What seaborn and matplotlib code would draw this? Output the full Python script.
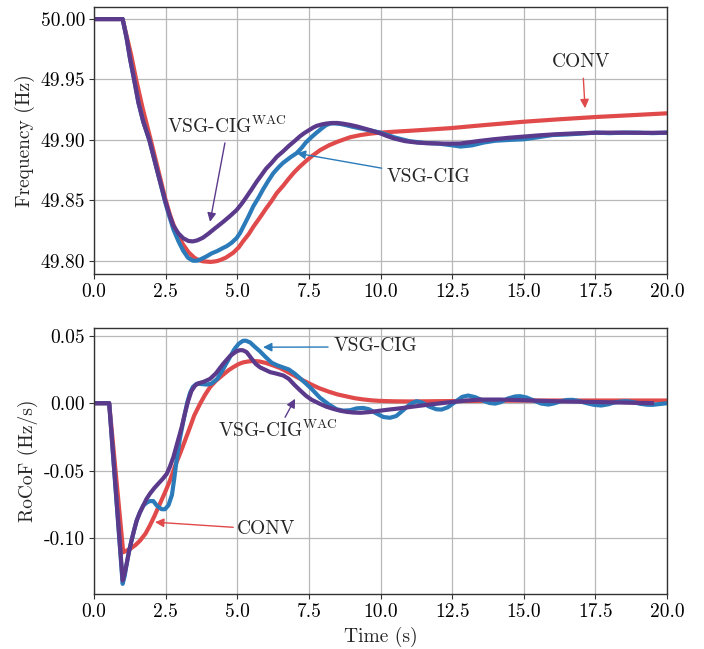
import matplotlib
matplotlib.use("Agg")
import matplotlib.pyplot as plt
import seaborn as sns

# ---------------- data ----------------
# Frequency (Hz)
t_f_conv = [0, 1.0, 1.15, 1.3, 1.47, 1.7, 1.98, 2.2, 2.48, 2.65, 2.77, 2.95, 3.12, 3.3,
            3.5, 3.65, 3.8, 4.07, 4.25, 4.4, 4.6, 4.86, 5.05, 5.2, 5.4, 5.56, 5.8, 6.0,
            6.2, 6.38, 6.6, 6.8, 7.0, 7.19, 7.4, 7.6, 7.89, 8.2, 8.5, 8.94, 9.3, 9.65,
            9.98, 10.5, 11.0, 12.43, 13.5, 14.98, 16.2, 17.55, 18.8, 20.0]
f_conv = [50.0, 50.0, 49.985, 49.970, 49.950, 49.926, 49.900, 49.879, 49.852, 49.838,
          49.830, 49.820, 49.813, 49.807, 49.8025, 49.8005, 49.7995, 49.799, 49.7995,
          49.8005, 49.8025, 49.8066, 49.811, 49.816, 49.822, 49.828, 49.836, 49.843,
          49.8495, 49.856, 49.862, 49.868, 49.8735, 49.878, 49.8825, 49.8865, 49.8915,
          49.8955, 49.8985, 49.9022, 49.904, 49.9052, 49.906, 49.9068, 49.9075,
          49.9097, 49.912, 49.915, 49.917, 49.919, 49.9205, 49.922]

t_f_vsg = [0, 1.0, 1.14, 1.26, 1.40, 1.55, 1.72, 1.93, 2.19, 2.48, 2.6, 2.77, 2.95,
           3.12, 3.28, 3.45, 3.6, 3.75, 3.93, 4.1, 4.3, 4.5, 4.63, 4.8, 4.98, 5.1,
           5.25, 5.4, 5.56, 5.75, 5.9, 6.08, 6.26, 6.45, 6.6, 6.85, 7.07, 7.25, 7.4,
           7.6, 7.77, 7.95, 8.1, 8.24, 8.4, 8.6, 8.8, 9.0, 9.5, 10.0, 10.5, 11.0, 11.5,
           12.0, 12.5, 12.8, 13.2, 13.6, 14.0, 14.5, 15.0, 15.5, 16.0, 16.5, 17.0,
           17.5, 18.0, 18.5, 19.0, 19.5, 20.0]
f_vsg = [50.0, 50.0, 49.984, 49.967, 49.950, 49.931, 49.915, 49.900, 49.876, 49.849,
         49.839, 49.826, 49.816, 49.808, 49.8025, 49.800, 49.800, 49.8015, 49.8036,
         49.806, 49.808, 49.8105, 49.812, 49.8148, 49.8188, 49.823, 49.830, 49.837,
         49.845, 49.8525, 49.859, 49.866, 49.8725, 49.8775, 49.881, 49.8855, 49.889,
         49.8935, 49.898, 49.9025, 49.906, 49.9095, 49.9122, 49.9135, 49.9137,
         49.9132, 49.9122, 49.911, 49.9085, 49.906, 49.902, 49.899, 49.8975, 49.897,
         49.8955, 49.8945, 49.8955, 49.8978, 49.8993, 49.900, 49.9005, 49.9022,
         49.904, 49.9045, 49.9052, 49.906, 49.9056, 49.906, 49.906, 49.9056, 49.906]

t_f_wac = [0, 1.0, 1.14, 1.26, 1.40, 1.55, 1.72, 1.93, 2.19, 2.48, 2.62, 2.77, 2.95,
           3.12, 3.3, 3.45, 3.6, 3.8, 4.0, 4.16, 4.5, 4.75, 4.98, 5.15, 5.3, 5.5, 5.68,
           5.85, 6.0, 6.2, 6.38, 6.6, 6.8, 7.0, 7.19, 7.35, 7.5, 7.65, 7.77, 7.95, 8.1,
           8.3, 8.5, 8.7, 8.94, 9.2, 9.5, 9.75, 9.98, 10.25, 10.5, 10.85, 11.26, 11.6,
           12.0, 12.4, 12.78, 13.1, 13.4, 13.94, 14.45, 14.98, 15.55, 16.15, 16.8,
           17.55, 18.5, 19.2, 20.0]
f_wac = [50.0, 50.0, 49.984, 49.967, 49.950, 49.931, 49.915, 49.900, 49.876, 49.850,
         49.839, 49.829, 49.8225, 49.8185, 49.8163, 49.816, 49.8168, 49.819, 49.8225,
         49.8256, 49.832, 49.837, 49.842, 49.847, 49.852, 49.859, 49.8655, 49.871,
         49.876, 49.881, 49.886, 49.8905, 49.895, 49.899, 49.903, 49.9058, 49.908,
         49.9102, 49.9116, 49.9128, 49.9135, 49.914, 49.914, 49.9134, 49.9124,
         49.911, 49.909, 49.9073, 49.9055, 49.903, 49.901, 49.899, 49.8978, 49.8973,
         49.897, 49.8969, 49.897, 49.898, 49.899, 49.9005, 49.9017, 49.9027, 49.9038,
         49.9047, 49.9054, 49.906, 49.906, 49.9058, 49.906]

# RoCoF (Hz/s)
t_r_conv = [0, 0.53, 1.02, 1.1, 1.26, 1.45, 1.61, 1.8, 1.95, 2.1, 2.30, 2.48, 2.65,
            2.82, 3.0, 3.17, 3.35, 3.5, 3.70, 3.87, 4.05, 4.25, 4.5, 4.7, 4.86, 5.05,
            5.2, 5.4, 5.56, 5.75, 6.0, 6.25, 6.5, 6.75, 7.0, 7.27, 7.54, 7.85, 8.2,
            8.5, 8.82, 9.1, 9.4, 9.7, 9.98, 10.5, 11.0, 12.0, 14.0, 16.0, 18.0, 20.0]
r_conv = [0.0, 0.0, -0.1104, -0.1095, -0.1079, -0.105, -0.1017, -0.0965, -0.0906,
          -0.084, -0.0745, -0.066, -0.0573, -0.047, -0.0375, -0.028, -0.0178, -0.009,
          -0.0005, 0.006, 0.0119, 0.0165, 0.021, 0.0245, 0.0267, 0.029, 0.0302,
          0.031, 0.0312, 0.031, 0.0298, 0.028, 0.026, 0.0232, 0.0203, 0.0172, 0.0143,
          0.0112, 0.0085, 0.0065, 0.005, 0.0037, 0.0028, 0.0021, 0.0017, 0.0014,
          0.0013, 0.0015, 0.0018, 0.002, 0.002, 0.002]

t_r_vsg = [0, 0.53, 1.0, 1.07, 1.14, 1.22, 1.31, 1.4, 1.49, 1.6, 1.72, 1.85, 1.95,
           2.07, 2.2, 2.36, 2.48, 2.6, 2.72, 2.8, 2.89, 3.0, 3.12, 3.25, 3.35, 3.45,
           3.58, 3.75, 3.93, 4.1, 4.3, 4.5, 4.74, 4.9, 5.05, 5.2, 5.3, 5.45, 5.6,
           5.79, 6.0, 6.2, 6.4, 6.6, 6.8, 7.0, 7.19, 7.4, 7.6, 7.89, 8.2, 8.47, 8.7,
           8.94, 9.17, 9.4, 9.6, 9.85, 10.1, 10.33, 10.55, 10.8, 11.05, 11.26, 11.45,
           11.7, 11.95, 12.13, 12.35, 12.6, 12.85, 13.06, 13.3, 13.55, 13.8, 14.0,
           14.2, 14.45, 14.7, 14.87, 15.1, 15.35, 15.6, 15.86, 16.05, 16.3, 16.5,
           16.7, 16.95, 17.2, 17.45, 17.7, 17.95, 18.15, 18.4, 18.6, 18.85, 19.05,
           19.3, 19.5, 19.75, 20.0]
r_vsg = [0.0, 0.0, -0.1338, -0.128, -0.119, -0.110, -0.1017, -0.094, -0.0869,
         -0.081, -0.0758, -0.0735, -0.0725, -0.0725, -0.076, -0.0785, -0.0785,
         -0.0755, -0.068, -0.056, -0.041, -0.026, -0.013, 0.0, 0.0075, 0.012, 0.0144,
         0.0142, 0.0138, 0.0145, 0.018, 0.025, 0.034, 0.040, 0.044, 0.0462, 0.0463,
         0.045, 0.042, 0.0385, 0.034, 0.030, 0.028, 0.0265, 0.025, 0.022, 0.0185,
         0.0145, 0.0105, 0.004, -0.001, -0.0045, -0.0055, -0.0052, -0.0038, -0.0035,
         -0.0045, -0.0075, -0.0102, -0.0108, -0.0095, -0.005, -0.0005, 0.0015,
         0.0005, -0.0025, -0.0045, -0.0047, -0.003, 0.0008, 0.0047, 0.0057, 0.0045,
         0.0022, 0.0002, -0.0003, 0.0008, 0.0035, 0.005, 0.0052, 0.0042, 0.002,
         -0.0002, -0.001, -0.0002, 0.0015, 0.0024, 0.0025, 0.0015, 0.0, -0.0012,
         -0.0017, -0.0008, 0.0005, 0.0013, 0.0015, 0.0007, -0.0004, -0.0011, -0.0012,
         -0.0006, 0.0]

t_r_wac = [0, 0.53, 1.0, 1.07, 1.14, 1.22, 1.31, 1.4, 1.49, 1.6, 1.72, 1.83, 1.95,
           2.1, 2.24, 2.4, 2.54, 2.65, 2.77, 2.9, 3.06, 3.18, 3.29, 3.4, 3.53, 3.65,
           3.82, 4.05, 4.25, 4.51, 4.75, 4.98, 5.1, 5.2, 5.33, 5.5, 5.65, 5.8, 5.95,
           6.15, 6.35, 6.61, 6.8, 7.0, 7.19, 7.4, 7.6, 7.89, 8.1, 8.35, 8.6, 8.82,
           9.05, 9.3, 9.6, 10.0, 10.3, 10.6, 11.14, 11.7, 12.33, 13.0, 13.5, 14.2,
           15.0, 15.7, 16.4, 17.2, 18.0, 18.8, 19.55]
r_wac = [0.0, 0.0, -0.1313, -0.126, -0.119, -0.110, -0.1017, -0.094, -0.0869,
         -0.081, -0.0758, -0.071, -0.0671, -0.063, -0.0597, -0.056, -0.0523, -0.047,
         -0.040, -0.030, -0.0178, -0.007, 0.002, 0.009, 0.0131, 0.0148, 0.0158,
         0.018, 0.022, 0.0292, 0.035, 0.0385, 0.0393, 0.0392, 0.0378, 0.033, 0.029,
         0.0265, 0.025, 0.023, 0.022, 0.0205, 0.018, 0.0135, 0.0096, 0.0055, 0.0025,
         -0.0005, -0.0025, -0.0042, -0.0056, -0.0064, -0.0069, -0.0071, -0.0066,
         -0.0055, -0.0047, -0.004, -0.0025, -0.001, 0.0005, 0.002, 0.0027, 0.0027,
         0.0022, 0.0017, 0.0013, 0.001, 0.0007, 0.0003, 0.0]

series_names = ["CONV", "VSG-CIG", r"VSG-CIG$^{\rm WAC}$"]

# ---------------- style ----------------
sns.set_style("whitegrid")
plt.rcParams.update({
    "font.family": ["cmr10", "DejaVu Serif"],
    "mathtext.fontset": "cm",
    "axes.unicode_minus": False,
    "axes.formatter.use_mathtext": False,
    "font.size": 14,
    "axes.edgecolor": "#333333",
    "axes.linewidth": 1.0,
    "grid.color": "#b8b8b8",
    "grid.linewidth": 0.9,
    "xtick.bottom": True,
    "ytick.left": True,
    "xtick.color": "#333333",
    "ytick.color": "#333333",
    "xtick.labelcolor": "black",
    "ytick.labelcolor": "black",
    "xtick.major.size": 3.5,
    "ytick.major.size": 3.5,
})

c_conv = "#e04a4a"
c_vsg = "#2b7bba"
c_wac = "#5b3a8c"
lw = 3.0
line_kw = dict(lw=lw, sort=False, solid_joinstyle="round", solid_capstyle="butt")

fig = plt.figure(figsize=(7.04, 6.49), dpi=100)
ax1 = fig.add_axes([94 / 704, 1 - 274 / 649, 573 / 704, 267 / 649])
ax2 = fig.add_axes([94 / 704, 1 - 594 / 649, 573 / 704, 266 / 649])

sns.lineplot(x=t_f_conv, y=f_conv, ax=ax1, color=c_conv, **line_kw)
sns.lineplot(x=t_f_vsg, y=f_vsg, ax=ax1, color=c_vsg, **line_kw)
sns.lineplot(x=t_f_wac, y=f_wac, ax=ax1, color=c_wac, **line_kw)

sns.lineplot(x=t_r_conv, y=r_conv, ax=ax2, color=c_conv, **line_kw)
sns.lineplot(x=t_r_vsg, y=r_vsg, ax=ax2, color=c_vsg, **line_kw)
sns.lineplot(x=t_r_wac, y=r_wac, ax=ax2, color=c_wac, **line_kw)

xt = [0, 2.5, 5, 7.5, 10, 12.5, 15, 17.5, 20]
for ax in (ax1, ax2):
    ax.set_xlim(0, 20)
    ax.set_xticks(xt)
    ax.set_xticklabels([f"{v:.1f}" for v in xt])
    ax.tick_params(labelsize=14, pad=3)
    for s in ax.spines.values():
        s.set_visible(True)

ax1.set_ylim(49.789, 50.010)
yt1 = [49.80, 49.85, 49.90, 49.95, 50.00]
ax1.set_yticks(yt1)
ax1.set_yticklabels([f"{v:.2f}" for v in yt1])
ax1.set_ylabel("Frequency (Hz)", fontsize=14)

ax2.set_ylim(-0.1413, 0.0557)
yt2 = [-0.10, -0.05, 0.00, 0.05]
ax2.set_yticks(yt2)
ax2.set_yticklabels([f"{v:.2f}" for v in yt2])
ax2.set_ylabel("RoCoF (Hz/s)", fontsize=14)
ax2.set_xlabel("Time (s)", fontsize=14)

def arrow(ax, head, tail, color):
    ax.annotate("", xy=head, xytext=tail,
                arrowprops=dict(arrowstyle="-|>", color=color, lw=1.0,
                                mutation_scale=13, shrinkA=0, shrinkB=0))

# top annotations
ax1.text(4.64, 49.9116, series_names[2], ha="center", va="center", fontsize=14)
arrow(ax1, (4.05, 49.8322), (4.57, 49.8975), c_wac)
ax1.text(11.67, 49.8695, series_names[1], ha="center", va="center", fontsize=14)
arrow(ax1, (7.075, 49.889), (10.04, 49.8766), c_vsg)
ax1.text(17.0, 49.9645, series_names[0], ha="center", va="center", fontsize=14)
arrow(ax1, (17.14, 49.9262), (17.08, 49.951), c_conv)

# bottom annotations
ax2.text(9.84, 0.042, series_names[1], ha="center", va="center", fontsize=14)
arrow(ax2, (5.90, 0.0415), (8.17, 0.0416), c_vsg)
ax2.text(6.42, -0.0199, series_names[2], ha="center", va="center", fontsize=14)
arrow(ax2, (7.02, 0.0033), (6.67, -0.0104), c_wac)
ax2.text(6.02, -0.0935, series_names[0], ha="center", va="center", fontsize=14)
arrow(ax2, (2.13, -0.0881), (4.86, -0.0919), c_conv)

fig.savefig("out.png", dpi=100)
